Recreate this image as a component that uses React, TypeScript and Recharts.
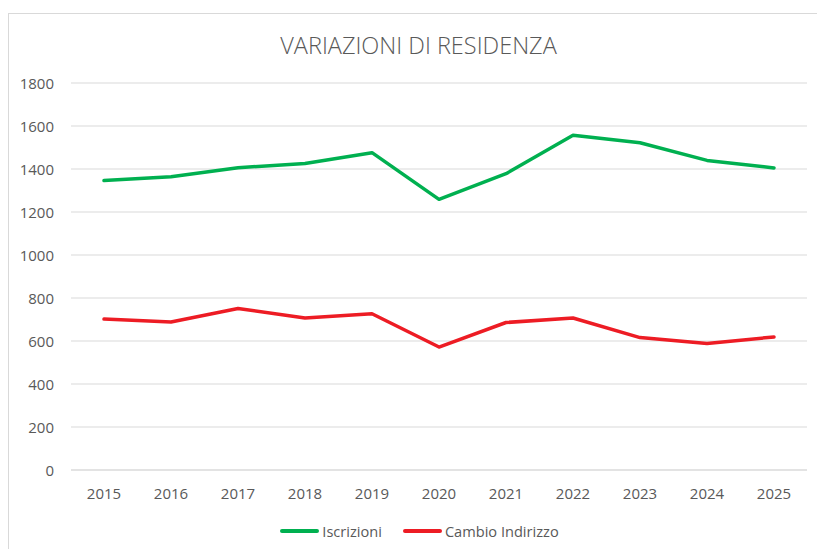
import React from 'react';
import { LineChart, Line, XAxis, YAxis, CartesianGrid, Legend } from 'recharts';

const years = ['2015', '2016', '2017', '2018', '2019', '2020', '2021', '2022', '2023', '2024', '2025'];
const iscrizioni = [1346, 1364, 1406, 1426, 1476, 1259, 1378, 1557, 1522, 1440, 1405];
const cambioIndirizzo = [702, 688, 751, 707, 727, 572, 686, 707, 616, 588, 619];
const yTicks = [0, 200, 400, 600, 800, 1000, 1200, 1400, 1600, 1800];
const seriesOrder = ['Iscrizioni', 'Cambio Indirizzo'];
const title = 'VARIAZIONI DI RESIDENZA';

const data = years.map((y, i) => ({ year: y, Iscrizioni: iscrizioni[i], 'Cambio Indirizzo': cambioIndirizzo[i] }));

const FONT = '"Open Sans", sans-serif';
const TEXT = '#595959';

const XTick = (props: any) => {
  const { x, y, payload } = props;
  return (
    <text x={x} y={y} dy={29} textAnchor="middle" fill={TEXT} fontFamily={FONT} fontSize={15}>
      {payload.value}
    </text>
  );
};

const YTick = (props: any) => {
  const { x, y, payload } = props;
  return (
    <text x={x} y={y} dy={5.5} textAnchor="end" fill={TEXT} fontFamily={FONT} fontSize={15}>
      {payload.value}
    </text>
  );
};

const LegendContent = (props: any) => {
  const payload = [...(props.payload || [])].sort(
    (a: any, b: any) => seriesOrder.indexOf(a.value) - seriesOrder.indexOf(b.value)
  );
  return (
    <div style={{ display: 'flex', justifyContent: 'center', alignItems: 'center', height: 20, paddingLeft: 32 }}>
      {payload.map((p: any, i: number) => (
        <div key={i} style={{ display: 'flex', alignItems: 'center', marginRight: i === 0 ? 21 : 0 }}>
          <div style={{ width: 39, height: 4, borderRadius: 2, background: p.color, marginRight: 3 }} />
          <span style={{ fontFamily: FONT, fontSize: 14.6, color: TEXT }}>{p.value}</span>
        </div>
      ))}
    </div>
  );
};

export default function App() {
  return (
    <div style={{ position: 'absolute', left: 0, top: 0, width: 817, height: 549, overflow: 'hidden', background: '#fff' }}>
      <div style={{ position: 'absolute', left: 8, top: 13, width: 840, height: 580, border: '1px solid #d9d9d9', boxSizing: 'border-box' }} />
      <svg style={{ position: 'absolute', left: 0, top: 0 }} width={817} height={80}>
        <text x={418.5} y={54.3} textAnchor="middle" fill={TEXT} fontFamily={FONT} fontSize={23.5} fontWeight={300}>
          {title}
        </text>
      </svg>
      <div style={{ position: 'absolute', left: 0, top: 0 }}>
        <LineChart width={817} height={549} data={data} margin={{ top: 83, right: 10, left: 0, bottom: 8 }}>
          <CartesianGrid vertical={false} stroke="#d9d9d9" strokeWidth={1.2} />
          <XAxis
            dataKey="year"
            height={51}
            padding={{ left: 33, right: 33 }}
            axisLine={{ stroke: '#d9d9d9', strokeWidth: 1.2 }}
            tickLine={false}
            tickSize={0}
            tickMargin={0}
            tick={<XTick />}
            interval={0}
          />
          <YAxis
            width={71}
            domain={[0, 1800]}
            ticks={yTicks}
            axisLine={false}
            tickLine={false}
            tickSize={0}
            tickMargin={17}
            tick={<YTick />}
            interval={0}
          />
          <Legend verticalAlign="bottom" content={<LegendContent />} />
          <Line
            type="linear"
            dataKey="Iscrizioni"
            stroke="#00b050"
            strokeWidth={3.5}
            dot={false}
            strokeLinejoin="round"
            strokeLinecap="round"
            isAnimationActive={false}
          />
          <Line
            type="linear"
            dataKey="Cambio Indirizzo"
            stroke="#ed1c24"
            strokeWidth={3.5}
            dot={false}
            strokeLinejoin="round"
            strokeLinecap="round"
            isAnimationActive={false}
          />
        </LineChart>
      </div>
    </div>
  );
}
